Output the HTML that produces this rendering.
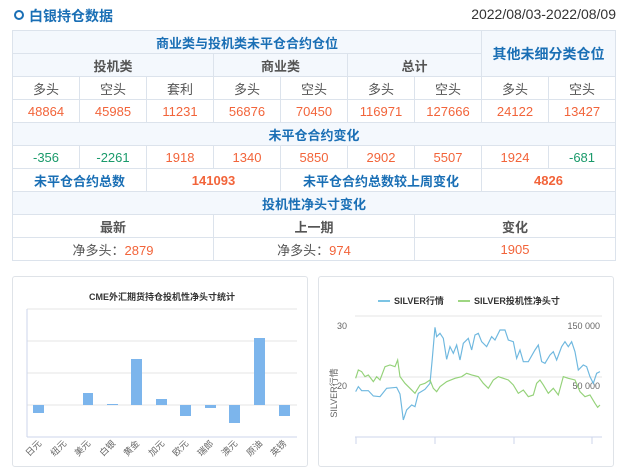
<!DOCTYPE html>
<html><head><meta charset="utf-8"><style>
body{margin:0;width:630px;height:471px;background:#fff;font-family:"Liberation Sans","Noto Sans CJK SC",sans-serif;position:relative;overflow:hidden}
.title{position:absolute;left:14px;top:6px;font-size:14px;font-weight:bold;color:#1a6fb5}
.title i{display:inline-block;width:6px;height:6px;border:2px solid #1a6fb5;border-radius:50%;margin-right:5px;vertical-align:1px}
.date{position:absolute;right:14px;top:6px;font-size:14px;color:#333}
table{position:absolute;left:12px;top:30px;width:604px;border-collapse:collapse;table-layout:fixed}
td{border:1px solid #dce3ec;height:22px;padding:0;text-align:center;font-size:13px;color:#555}
.h{background:#f4f8fd;color:#1a6fb5;font-weight:bold}
.s{background:#f4f8fd;color:#555;font-weight:bold}
.r{color:#f2643a}.g{color:#1a9a6b}.b{color:#1a6fb5;font-weight:bold}.rb{color:#f2643a;font-weight:bold}
.panel{position:absolute;top:276px;height:191px;width:296px;border:1px solid #dfe3e8;border-radius:3px;box-sizing:border-box}
</style></head><body>
<div class="title"><i></i>白银持仓数据</div>
<div class="date">2022/08/03-2022/08/09</div>
<table>
<tr><td colspan="7" class="h">商业类与投机类未平仓合约仓位</td><td colspan="2" rowspan="2" class="h" style="font-size:14px">其他未细分类仓位</td></tr>
<tr><td colspan="3" class="s">投机类</td><td colspan="2" class="s">商业类</td><td colspan="2" class="s">总计</td></tr>
<tr><td>多头</td><td>空头</td><td>套利</td><td>多头</td><td>空头</td><td>多头</td><td>空头</td><td>多头</td><td>空头</td></tr>
<tr class="r"><td class="r">48864</td><td class="r">45985</td><td class="r">11231</td><td class="r">56876</td><td class="r">70450</td><td class="r">116971</td><td class="r">127666</td><td class="r">24122</td><td class="r">13427</td></tr>
<tr><td colspan="9" class="h">未平仓合约变化</td></tr>
<tr><td class="g">-356</td><td class="g">-2261</td><td class="r">1918</td><td class="r">1340</td><td class="r">5850</td><td class="r">2902</td><td class="r">5507</td><td class="r">1924</td><td class="g">-681</td></tr>
<tr><td colspan="2" class="b">未平仓合约总数</td><td colspan="2" class="rb">141093</td><td colspan="3" class="b">未平仓合约总数较上周变化</td><td colspan="2" class="rb">4826</td></tr>
<tr><td colspan="9" class="h">投机性净头寸变化</td></tr>
<tr><td colspan="3" class="s" style="background:#fff">最新</td><td colspan="3" class="s" style="background:#fff">上一期</td><td colspan="3" class="s" style="background:#fff">变化</td></tr>
<tr><td colspan="3">净多头：<span class="r">2879</span></td><td colspan="3">净多头：<span class="r">974</span></td><td colspan="3" class="r">1905</td></tr>
</table>
<div class="panel" style="left:12px"></div>
<div class="panel" style="left:318px"></div>
<svg width="630" height="471" style="position:absolute;left:0;top:0" font-family="Liberation Sans,Noto Sans CJK SC,sans-serif">
<text x="162" y="300" font-size="9" font-weight="bold" fill="#333" text-anchor="middle">CME外汇期货持仓投机性净头寸统计</text>
<g stroke="#e6e6e6"><line x1="27" y1="309" x2="297" y2="309"/><line x1="27" y1="341" x2="297" y2="341"/><line x1="27" y1="373" x2="297" y2="373"/><line x1="27" y1="405" x2="297" y2="405"/></g>
<line x1="27" y1="437" x2="297" y2="437" stroke="#ccd6eb"/><line x1="27" y1="309" x2="27" y2="437" stroke="#ccd6eb"/>
<g fill="#7cb5ec"><rect x="33" y="405" width="11" height="8"/><rect x="83" y="393" width="10" height="12"/><rect x="107" y="404" width="11" height="1"/><rect x="131" y="359" width="11" height="46"/><rect x="156" y="399" width="11" height="6"/><rect x="180" y="405" width="11" height="11"/><rect x="205" y="405" width="11" height="3"/><rect x="229" y="405" width="11" height="18"/><rect x="254" y="338" width="11" height="67"/><rect x="279" y="405" width="11" height="11"/></g>
<g font-size="9" fill="#666" text-anchor="end">
<text transform="translate(42 444) rotate(-45)">日元</text><text transform="translate(67 444) rotate(-45)">纽元</text><text transform="translate(91 444) rotate(-45)">美元</text><text transform="translate(116 444) rotate(-45)">白银</text><text transform="translate(140 444) rotate(-45)">黄金</text><text transform="translate(165 444) rotate(-45)">加元</text><text transform="translate(189 444) rotate(-45)">欧元</text><text transform="translate(214 444) rotate(-45)">瑞郎</text><text transform="translate(238 444) rotate(-45)">澳元</text><text transform="translate(263 444) rotate(-45)">原油</text><text transform="translate(287 444) rotate(-45)">英镑</text></g>
<line x1="378" y1="301" x2="390" y2="301" stroke="#7cc4e4" stroke-width="2"/><text x="394" y="304" font-size="9" font-weight="bold" fill="#333">SILVER行情</text>
<line x1="458" y1="301" x2="470" y2="301" stroke="#9ed682" stroke-width="2"/><text x="474" y="304" font-size="9" font-weight="bold" fill="#333">SILVER投机性净头寸</text>
<line x1="355" y1="316" x2="602" y2="316" stroke="#e6e6e6"/><line x1="355" y1="377" x2="602" y2="377" stroke="#e6e6e6"/>
<line x1="355" y1="437" x2="602" y2="437" stroke="#ccd6eb"/>
<g stroke="#ccd6eb"><line x1="356" y1="437" x2="356" y2="444"/><line x1="435" y1="437" x2="435" y2="444"/><line x1="514" y1="437" x2="514" y2="444"/><line x1="592" y1="437" x2="592" y2="444"/></g>
<g font-size="9" fill="#666"><text x="347" y="329" text-anchor="end">30</text><text x="347" y="389" text-anchor="end">20</text><text x="600" y="329" text-anchor="end">150 000</text><text x="600" y="389" text-anchor="end">50 000</text>
<text transform="translate(337 393) rotate(-90)" text-anchor="middle">SILVER行情</text></g>
<g transform="translate(315 270) scale(0.3333)" fill="none" stroke-width="3.5">
<polyline stroke="#6fb8df" points="122,365 130,350 140,362 160,362 175,378 195,380 215,355 245,352 255,372 265,450 275,420 290,405 300,410 310,370 330,358 345,340 352,265 360,172 365,200 375,190 385,205 395,268 405,230 415,250 425,225 435,270 445,220 460,205 470,240 480,195 490,190 500,215 515,230 530,200 540,210 555,180 570,180 580,210 595,215 605,265 615,240 625,275 640,275 660,240 670,225 680,275 690,280 705,255 715,245 725,270 740,230 750,215 760,230 770,215 780,245 790,300 805,285 815,290 825,320 835,340 845,310 855,305"/>
<polyline stroke="#95d27a" points="122,325 130,300 140,305 150,320 160,315 175,335 185,320 195,330 210,290 225,285 240,290 248,270 255,320 270,340 285,355 300,370 315,345 330,340 345,330 355,355 365,365 375,350 395,335 420,325 440,320 455,310 470,315 490,320 505,340 520,355 535,330 550,320 565,325 580,330 595,345 610,370 625,360 640,380 655,375 665,340 675,330 685,345 700,370 715,355 730,375 745,320 760,325 780,330 795,365 810,380 825,375 840,400 848,412 855,405"/>
</g>
</svg>
</body></html>
